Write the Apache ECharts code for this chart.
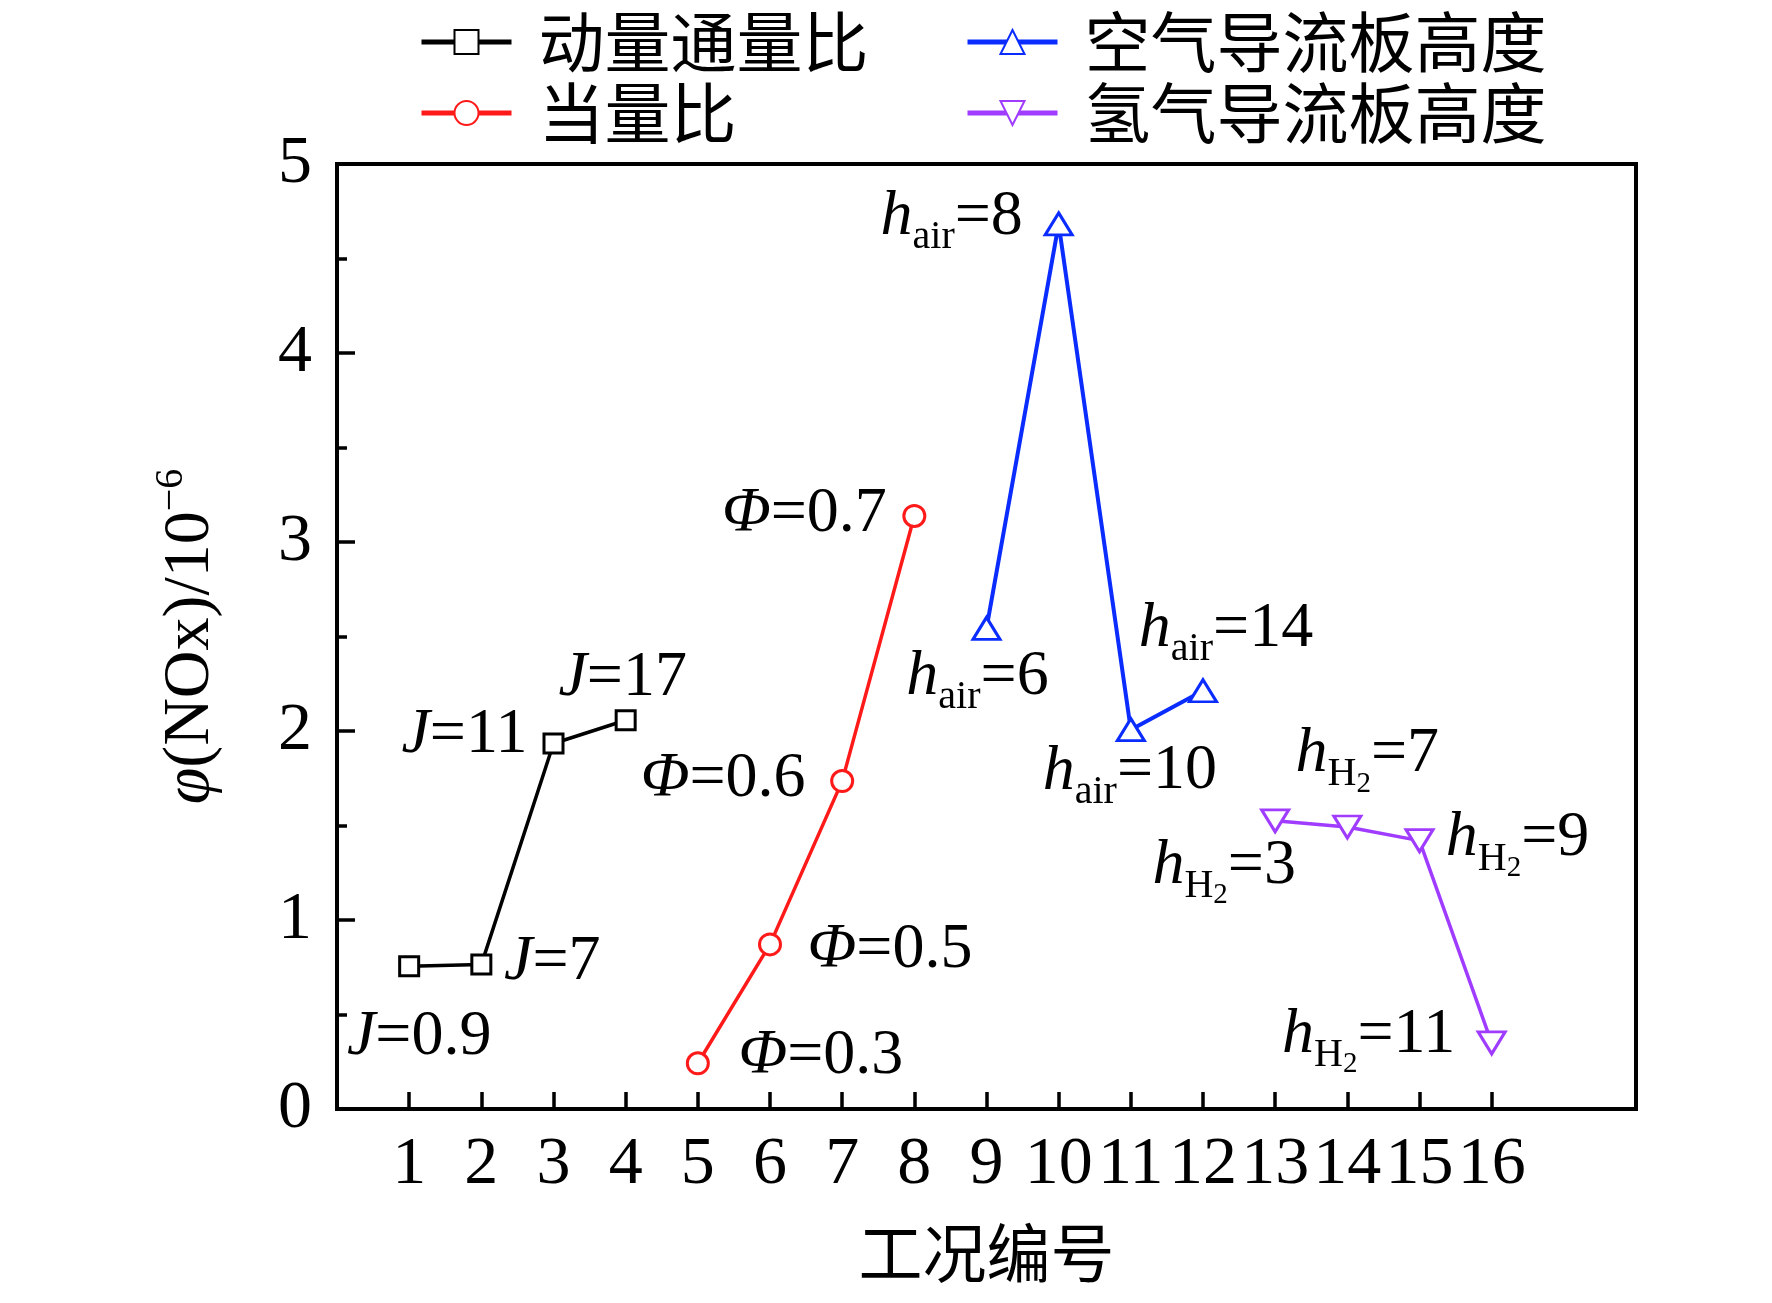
<!DOCTYPE html>
<html><head><meta charset="utf-8">
<script src="https://cdn.jsdelivr.net/npm/echarts@6/dist/echarts.min.js"></script>
<style>html,body{margin:0;padding:0;background:#fff}#c{width:1772px;height:1303px}</style>
</head><body><div id="c"></div>
<script>
// ---- data ----
const caseTicks = [1,2,3,4,5,6,7,8,9,10,11,12,13,14,15,16];
const seriesNames = ['动量通量比','当量比','空气导流板高度','氢气导流板高度'];
const jCases = [1,2,3,4];
const jValues = [0.755, 0.764, 1.934, 2.057];
const jParams = ['0.9','7','11','17'];
const phiCases = [5,6,7,8];
const phiValues = [0.242, 0.871, 1.735, 3.138];
const phiParams = ['0.3','0.5','0.6','0.7'];
const hairCases = [9,10,11,12];
const hairValues = [2.543, 4.683, 2.007, 2.213];
const hairParams = ['6','8','10','14'];
const hh2Cases = [13,14,15,16];
const hh2Values = [1.525, 1.492, 1.42, 0.35];
const hh2Params = ['3','7','9','11'];
const xName = '工况编号';

// ---- layout / style ----
const jOffsets = [[10,71],[71,-2],[-89,-8],[-3,-42]];
const phiOffsets = [[123,-7],[120,6],[-119,-2],[-110,-2]];
const hairOffsets = [[-9,49],[-107,-7],[-1,42],[23,-62]];
const hh2Offsets = [[-51,45],[20,-73],[98,-2],[-123,-8]];

const SERIF = '"Liberation Serif","Times New Roman",serif';
const CJK = '"Noto Sans CJK SC",sans-serif';
const LF = 64;
const rich = {
  i:{fontFamily:SERIF, fontStyle:'italic', fontSize:LF, color:'#000'},
  n:{fontFamily:SERIF, fontSize:LF, color:'#000'},
  s:{fontFamily:SERIF, fontSize:40, color:'#000', padding:[41,0,0,0]},
  ss:{fontFamily:SERIF, fontSize:29, color:'#000', padding:[60,0,0,0]}
};
function makeData(xs, ys, texts, offsets){
  return xs.map((x,k)=>({value:[x, ys[k]], label:{offset:offsets[k], formatter:texts[k]}}));
}
function mkSeries(name, color, symbol, size, rotate, data, lw){
  return {
    name, type:'line', data, symbol, symbolSize:size, symbolRotate:rotate,
    lineStyle:{color, width:lw},
    itemStyle:{color:'#fff', borderColor:color, borderWidth:3},
    label:{show:true, position:'inside', align:'center', verticalAlign:'middle', color:'#000', rich},
    emphasis:{disabled:true}, z:3
  };
}
const chart = echarts.init(document.getElementById('c'), null, {renderer:'canvas'});
const legendCommon = {
  orient:'vertical', itemWidth:90, itemHeight:30, itemGap:5, top:4,
  textStyle:{fontFamily:CJK, fontSize:66, color:'#000', padding:[0,0,0,22]},
  lineStyle:{width:5}, selectedMode:false
};
chart.setOption({
  animation:false,
  backgroundColor:'#fff',
  legend:[
    Object.assign({data:[seriesNames[0], seriesNames[1]], left:414}, legendCommon),
    Object.assign({data:[seriesNames[2], seriesNames[3]], left:960}, legendCommon)
  ],
  grid:{left:337, right:136, top:164, bottom:194, show:true, borderColor:'#000', borderWidth:4, backgroundColor:'transparent'},
  xAxis:{
    type:'value', min:0, max:18, interval:1,
    name:xName, nameLocation:'middle', nameGap:112,
    nameTextStyle:{fontFamily:CJK, fontSize:64, color:'#000'},
    axisLine:{show:true, onZero:false, lineStyle:{color:'#000', width:4}},
    axisTick:{show:true, inside:true, length:17, customValues:caseTicks, lineStyle:{color:'#000', width:3.5}},
    axisLabel:{show:true, customValues:caseTicks, fontFamily:SERIF, fontSize:68, color:'#000', margin:22},
    splitLine:{show:false}
  },
  yAxis:{
    type:'value', min:0, max:5, interval:1,
    name:'{i|φ}{n|(NOx)/10}{sup|−6}', nameLocation:'middle', nameGap:106, nameRotate:90,
    nameTextStyle:{fontFamily:SERIF, fontSize:66, color:'#000', rich:{
      i:{fontFamily:SERIF, fontStyle:'italic', fontSize:66, color:'#000'},
      n:{fontFamily:SERIF, fontSize:66, color:'#000'},
      sup:{fontFamily:SERIF, fontSize:40, color:'#000', padding:[0,0,40,0]}
    }},
    axisLine:{show:true, onZero:false, lineStyle:{color:'#000', width:4}},
    axisTick:{show:true, inside:true, length:18, lineStyle:{color:'#000', width:3.5}},
    minorTick:{show:true, splitNumber:2, length:10, lineStyle:{color:'#000', width:3.5}},
    axisLabel:{fontFamily:SERIF, fontSize:68, color:'#000', margin:25},
    splitLine:{show:false}, minorSplitLine:{show:false}
  },
  series:[
    mkSeries(seriesNames[0], '#000000', 'rect', 19, 0,
      makeData(jCases, jValues, jParams.map(p=>`{i|J}{n|=${p}}`), jOffsets), 3.5),
    mkSeries(seriesNames[1], '#ff1a1a', 'circle', 21, 0,
      makeData(phiCases, phiValues, phiParams.map(p=>`{i|Φ}{n|=${p}}`), phiOffsets), 3.5),
    mkSeries(seriesNames[2], '#0a2cff', 'triangle', [27,22], 0,
      makeData(hairCases, hairValues, hairParams.map(p=>`{i|h}{s|air}{n|=${p}}`), hairOffsets), 4),
    mkSeries(seriesNames[3], '#a03cff', 'triangle', [27,22], 180,
      makeData(hh2Cases, hh2Values, hh2Params.map(p=>`{i|h}{s|H}{ss|2}{n|=${p}}`), hh2Offsets), 3.5)
  ]
});
</script></body></html>
